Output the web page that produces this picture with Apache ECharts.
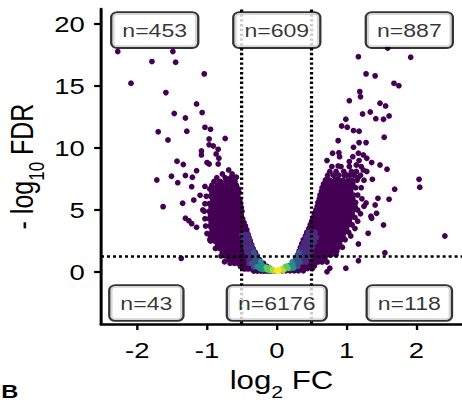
<!DOCTYPE html>
<html><head><meta charset="utf-8">
<script src="https://cdn.jsdelivr.net/npm/echarts@6/dist/echarts.min.js"></script>
<style>
html,body{margin:0;padding:0;background:#fff;overflow:hidden;width:462px;height:403px;}
#chart{width:370px;height:403px;transform:scaleX(1.2486);transform-origin:0 0;}
</style></head><body><div id="chart"></div>
<script>
// ---- data (x = log2 FC, y = -log10 FDR) ----
const xTicks = [-2, -1, 0, 1, 2];
const yTicks = [0, 5, 10, 15, 20];
const fcCut = [-0.5, 0.5];
const fdrCut = [1.3];

const boxX = [-1.75, 0, 1.9, -1.87, 0, 1.9];
const boxY = [19.5, 19.5, 19.5, -2.5, -2.5, -2.5];
const boxText = ['n=453', 'n=609', 'n=887', 'n=43', 'n=6176', 'n=118'];

// rows: first value = -log10 FDR, then log2 FC values on that row
const leftCloudRows = [
 [7.9,-0.78,-0.64],
 [7.6,-0.86,-0.74,-0.66,-0.60],
 [7.3,-0.90,-0.81,-0.73,-0.66,-0.60],
 [7.0,-0.93,-0.85,-0.78,-0.71,-0.64,-0.58],
 [6.7,-0.96,-0.89,-0.83,-0.77,-0.71,-0.65,-0.59,-0.55],
 [6.4,-0.93,-0.87,-0.81,-0.75,-0.69,-0.63,-0.58,-0.54],
 [6.1,-1.01,-0.95,-0.89,-0.83,-0.77,-0.71,-0.66,-0.61,-0.56],
 [5.8,-0.92,-0.86,-0.80,-0.74,-0.68,-0.63,-0.58,-0.53],
 [5.5,-1.03,-0.97,-0.91,-0.85,-0.79,-0.73,-0.67,-0.62,-0.57,-0.52],
 [5.2,-0.94,-0.88,-0.82,-0.76,-0.70,-0.65,-0.60,-0.55,-0.51],
 [4.9,-1.04,-0.97,-0.91,-0.85,-0.79,-0.73,-0.68,-0.63,-0.58,-0.53,-0.50],
 [4.6,-0.95,-0.89,-0.83,-0.77,-0.71,-0.66,-0.61,-0.56,-0.51],
 [4.3,-1.03,-0.97,-0.91,-0.85,-0.79,-0.73,-0.68,-0.63,-0.58,-0.53,-0.49],
 [4.0,-0.94,-0.88,-0.82,-0.76,-0.71,-0.66,-0.61,-0.56,-0.51,-0.47],
 [3.7,-1.02,-0.96,-0.90,-0.84,-0.78,-0.73,-0.68,-0.63,-0.58,-0.53,-0.48,-0.45],
 [3.4,-0.93,-0.87,-0.81,-0.75,-0.70,-0.65,-0.60,-0.55,-0.50,-0.46,-0.43],
 [3.1,-1.00,-0.94,-0.88,-0.82,-0.76,-0.71,-0.66,-0.61,-0.56,-0.51,-0.46,-0.42],
 [2.8,-0.91,-0.85,-0.79,-0.74,-0.69,-0.64,-0.59,-0.54,-0.49,-0.44,-0.40],
 [2.5,-0.95,-0.89,-0.83,-0.77,-0.72,-0.67,-0.62,-0.57,-0.52,-0.47,-0.42,-0.38],
 [2.2,-0.85,-0.79,-0.74,-0.69,-0.64,-0.59,-0.54,-0.49,-0.44,-0.40,-0.36],
 [1.9,-0.88,-0.82,-0.77,-0.72,-0.67,-0.62,-0.57,-0.52,-0.47,-0.42,-0.38,-0.34],
 [1.6,-0.78,-0.73,-0.68,-0.63,-0.58,-0.53,-0.48,-0.44,-0.40,-0.36,-0.31],
 [1.3,-0.80,-0.74,-0.69,-0.64,-0.59,-0.54,-0.49,-0.45,-0.41,-0.37,-0.33,-0.28],
 [1.0,-0.69,-0.64,-0.59,-0.54,-0.49,-0.45,-0.41,-0.37,-0.33,-0.29,-0.25],
 [0.7,-0.67,-0.61,-0.56,-0.51,-0.47,-0.43,-0.39,-0.35,-0.31,-0.27,-0.23,-0.19],
 [0.45,-0.52,-0.47,-0.42,-0.38,-0.34,-0.30,-0.26,-0.22,-0.18,-0.14],
 [0.25,-0.46,-0.41,-0.36,-0.32,-0.28,-0.24,-0.20,-0.16,-0.12,-0.09],
 [0.08,-0.33,-0.28,-0.23,-0.19,-0.15,-0.11,-0.07,-0.04]
];
const rightCloudRows = [
 [8.5,0.79,0.92,1.04,1.21],
 [8.1,0.76,0.85,0.96,1.07,1.14,1.29],
 [7.8,0.73,0.81,0.89,0.97,1.05,1.11,1.20],
 [7.4,0.70,0.76,0.83,0.89,0.95,1.02,1.08,1.15,1.25],
 [7.1,0.67,0.73,0.79,0.85,0.91,0.97,1.03,1.09],
 [6.8,0.65,0.71,0.77,0.83,0.89,0.95,1.01,1.07,1.13,1.21],
 [6.5,0.64,0.70,0.76,0.82,0.88,0.94,1.00,1.06],
 [6.2,0.62,0.68,0.74,0.80,0.86,0.92,0.98,1.04,1.10,1.16],
 [5.9,0.61,0.67,0.73,0.79,0.85,0.91,0.97,1.03,1.09,1.22],
 [5.6,0.59,0.65,0.71,0.77,0.83,0.89,0.95,1.01,1.07,1.13],
 [5.3,0.58,0.64,0.70,0.76,0.82,0.88,0.94,1.00,1.06,1.12,1.25],
 [5.0,0.56,0.62,0.68,0.74,0.80,0.86,0.92,0.98,1.04,1.10,1.16],
 [4.7,0.54,0.60,0.66,0.72,0.78,0.84,0.90,0.96,1.02,1.08,1.20],
 [4.4,0.52,0.58,0.64,0.70,0.76,0.82,0.88,0.94,1.00,1.06,1.12],
 [4.1,0.50,0.56,0.62,0.68,0.74,0.80,0.86,0.92,0.98,1.04,1.16],
 [3.8,0.48,0.54,0.60,0.66,0.72,0.78,0.84,0.90,0.96,1.02,1.08],
 [3.5,0.46,0.52,0.58,0.64,0.70,0.76,0.82,0.88,0.94,1.00,1.12],
 [3.2,0.43,0.49,0.55,0.61,0.67,0.73,0.79,0.85,0.91,0.97,1.03],
 [2.9,0.41,0.47,0.53,0.59,0.65,0.71,0.77,0.83,0.89,0.95,1.06],
 [2.6,0.38,0.44,0.50,0.56,0.62,0.68,0.74,0.80,0.86,0.92,0.98],
 [2.3,0.36,0.42,0.48,0.54,0.60,0.66,0.72,0.78,0.84,0.90],
 [2.0,0.34,0.40,0.46,0.52,0.58,0.64,0.70,0.76,0.82,0.88,0.94],
 [1.7,0.32,0.38,0.44,0.50,0.56,0.62,0.68,0.74,0.80,0.86],
 [1.4,0.30,0.36,0.42,0.48,0.54,0.60,0.66,0.72,0.78,0.85],
 [1.1,0.27,0.33,0.39,0.45,0.51,0.57,0.63,0.69],
 [0.8,0.23,0.29,0.35,0.41,0.47,0.53,0.59,0.65,0.72],
 [0.5,0.18,0.24,0.30,0.36,0.42,0.48,0.54],
 [0.28,0.14,0.20,0.26,0.32,0.38,0.44,0.51],
 [0.1,0.08,0.13,0.19,0.25,0.31,0.38]
];
const leftSparse = [[-2.28,17.77],[-1.49,17.77],[-1.79,16.96],[-1.45,16.91],[-2.09,15.22],[-1.04,15.97],[-1.59,14.46],[-1.15,13.55],[-1.47,12.78],[-1.31,12.41],[-1.07,12.85],[-1.70,11.31],[-1.29,11.35],[-1.03,11.66],[-0.95,11.5],[-1.56,10.65],[-0.97,10.72],[-0.74,10.76],[-0.91,10.16],[-0.97,10.25],[-1.08,9.76],[-0.84,9.89],[-0.87,9.52],[-1.08,9.44],[-0.83,9.17],[-1.43,8.93],[-1.34,8.67],[-0.97,8.71],[-1.0,8.82],[-0.84,8.71],[-1.15,8.17],[-0.69,8.23],[-1.51,7.72],[-1.31,7.78],[-1.21,7.64],[-1.72,7.42],[-1.42,7.20],[-1.22,6.88],[-1.03,6.9],[-0.82,7.28],[-0.70,7.47],[-0.58,7.64],[-0.57,6.61],[-1.35,5.54],[-1.63,5.27],[-1.19,5.80],[-1.10,6.18],[-1.31,4.33],[-1.26,4.14],[-1.22,3.9],[-1.15,3.6],[-1.06,5.0],[-1.37,1.1],[-0.95,2.85],[-0.96,2.6],[-0.75,0.83]];
const rightSparse = [[1.17,17.36],[1.92,17.31],[1.59,18.06],[1.28,15.97],[1.41,15.81],[1.68,15.21],[1.75,15.02],[1.19,14.54],[1.20,14.12],[1.04,13.81],[1.48,13.60],[1.56,13.39],[1.23,12.74],[1.34,12.90],[1.61,12.58],[0.99,12.31],[1.42,12.36],[1.53,12.31],[0.93,11.77],[1.01,11.67],[1.10,11.40],[1.18,11.35],[1.54,10.86],[0.88,10.59],[1.18,10.43],[1.28,10.43],[1.10,10.05],[0.80,9.57],[0.89,9.62],[0.90,9.30],[1.17,9.57],[1.24,9.44],[1.09,9.30],[1.29,9.17],[0.72,8.98],[1.04,8.90],[1.18,8.98],[1.36,8.82],[1.48,8.63],[1.58,8.28],[0.88,8.55],[1.14,8.63],[1.24,8.23],[1.00,7.82],[1.17,7.64],[0.70,7.42],[0.85,7.47],[0.91,7.28],[1.02,7.10],[1.37,7.47],[1.69,6.67],[2.04,7.47],[2.05,6.83],[1.45,5.94],[1.61,5.86],[1.41,5.40],[1.28,5.56],[1.43,4.73],[1.35,4.5],[1.36,4.33],[1.53,3.79],[1.31,3.12],[1.17,2.26],[1.55,1.56],[1.17,0.91],[0.99,0.30],[0.76,0.30],[0.72,0.02],[2.41,2.90]];
const topClipped = [[-2.17,21.25],[-1.88,21.25],[-1.72,21.25],[-1.51,21.25],[-1.12,21.25],[1.37,21.25],[1.46,21.25],[1.89,21.25],[1.98,21.25],[2.25,21.25]];

// density-coloured points near the origin
const densIndigo = [[-0.50,3.0],[-0.45,3.0],[-0.41,3.0],[-0.48,2.6],[-0.43,2.6],[-0.39,2.6],[-0.46,2.2],[-0.41,2.2],[-0.37,2.2],[-0.44,1.9],[-0.39,1.9],[-0.35,1.9],[-0.43,1.6],[-0.38,1.6],[-0.42,1.3],[-0.37,1.3],[-0.40,1.0],[-0.35,1.0],[-0.40,0.7],[-0.35,0.7],
 [0.45,3.2],[0.50,3.2],[0.55,3.2],[0.42,2.8],[0.47,2.8],[0.52,2.8],[0.57,2.8],[0.39,2.4],[0.44,2.4],[0.49,2.4],[0.54,2.4],[0.36,2.0],[0.41,2.0],[0.46,2.0],[0.51,2.0],[0.34,1.6],[0.39,1.6],[0.44,1.6],[0.49,1.6],[0.38,1.2],[0.43,1.2],[0.48,1.2],[0.37,0.8],[0.42,0.8]];
const densBlue = [[-0.33,1.6],[-0.31,1.3],[-0.28,1.25],[-0.31,1.0],[-0.27,0.95],[-0.36,0.7],[-0.30,0.65],[-0.33,0.42],[-0.28,0.45],
 [0.32,1.6],[0.29,1.3],[0.33,1.3],[0.27,1.0],[0.31,1.0],[0.33,0.8],[0.27,0.7],[0.30,0.45],[0.26,0.45]];
const densTeal = [[-0.23,0.85],[-0.22,0.6],[-0.28,0.42],[-0.19,0.45],[-0.24,0.27],[-0.20,0.2],
 [0.22,0.8],[0.23,0.56],[0.19,0.5],[0.24,0.33],[0.19,0.28]];
const densGreen = [[-0.15,0.38],[-0.10,0.32],[-0.14,0.18],[-0.10,0.12],
 [0.12,0.42],[0.16,0.3],[0.11,0.2],[0.14,0.48]];
const densLime = [[-0.06,0.2],[0.07,0.25],[0.09,0.12],[-0.05,0.08]];
const densYellow = [[0.0,0.12],[0.03,0.18],[0.02,0.06]];

// ---- build ----
function fromRows(rows){ const out=[]; rows.forEach(r=>{ for(let i=1;i<r.length;i++) out.push([r[i], r[0]]); }); return out; }
const purple = [].concat(fromRows(leftCloudRows), fromRows(rightCloudRows), leftSparse, rightSparse);

const FONT = "'Liberation Sans', Arial, Helvetica, sans-serif";
const chart = echarts.init(document.getElementById('chart'), null, {renderer:'svg'});
const ptSize = [4.6, 5.8];
function layer(data, color, z){ return {type:'scatter', data:data, symbolSize:ptSize, itemStyle:{color:color, opacity:1}, z:z, silent:true, animation:false}; }
const nameRich = {
  a:{fontSize:25, lineHeight:26, verticalAlign:'top', fontFamily:FONT, color:'#000'},
  s:{fontSize:17, lineHeight:18, verticalAlign:'top', padding:[16,0,0,0], fontFamily:FONT, color:'#000'}
};

chart.setOption({
  animation:false,
  backgroundColor:'#fff',
  grid:{left:80.9, right:0, top:9, bottom:79, outerBoundsMode:'none', containLabel:false},
  xAxis:{type:'value', min:-2.52, max:2.655,
    axisLine:{show:true, onZero:false, lineStyle:{color:'#000', width:2.5}},
    axisTick:{show:true, customValues:xTicks, length:6, lineStyle:{color:'#000', width:1.9}},
    axisLabel:{customValues:xTicks, margin:15, fontSize:22, color:'#000', fontFamily:FONT},
    splitLine:{show:false},
    name:'{a|log}{s|2}{a| FC}', nameLocation:'middle', nameGap:44, nameMoveOverlap:false,
    nameTextStyle:{color:'#000', fontFamily:FONT, fontSize:25, rich:nameRich}
  },
  yAxis:{type:'value', min:-4.19, max:21.2,
    axisLine:{show:true, onZero:false, lineStyle:{color:'#000', width:2.4}},
    axisTick:{show:true, customValues:yTicks, length:5.5, lineStyle:{color:'#000', width:2.2}},
    axisLabel:{customValues:yTicks, margin:13, fontSize:22, color:'#000', fontFamily:FONT},
    splitLine:{show:false},
    name:'{a|- log}{s|10}{a| FDR}', nameLocation:'middle', nameGap:50, nameRotate:90, nameMoveOverlap:false,
    nameTextStyle:{color:'#000', fontFamily:FONT, fontSize:25, rich:nameRich}
  },
  graphic:[{type:'text', left:1, top:382, silent:true, style:{text:'B', font:"bold 19px 'Liberation Sans', Arial, sans-serif", fill:'#000'}}],
  series:[
    layer(purple, '#440154', 2),
    layer(topClipped, '#440154', 2),
    layer(densIndigo, '#472d7b', 2),
    layer(densBlue, '#3b528b', 2),
    layer(densTeal, '#21918c', 2),
    layer(densGreen, '#5ec962', 2),
    layer(densLime, '#b5de2b', 2),
    layer(densYellow, '#fde725', 2),
    {type:'scatter', data:[], z:3, silent:true,
      markLine:{silent:true, symbol:['none','none'], label:{show:false}, animation:false,
        lineStyle:{color:'#000', width:2.6, type:[2.4,2.4], cap:'butt', opacity:1},
        emphasis:{disabled:true},
        data:[{xAxis:fcCut[0]},{xAxis:fcCut[1]},{yAxis:fdrCut[0]}]}},
    {type:'scatter', z:5, silent:true, clip:false, symbolSize:1, itemStyle:{color:'rgba(0,0,0,0)'},
      data: boxX.map((x,i)=>({value:[x, boxY[i]], name:boxText[i]})),
      label:{show:true, position:'inside', formatter:p=>p.name, fontSize:18.5, lineHeight:22, fontFamily:FONT, color:'#000',
        backgroundColor:'#fff', borderColor:'#000', borderWidth:1.8, borderRadius:4, padding:[6,8,6,8]}}
  ]
});
</script></body></html>
